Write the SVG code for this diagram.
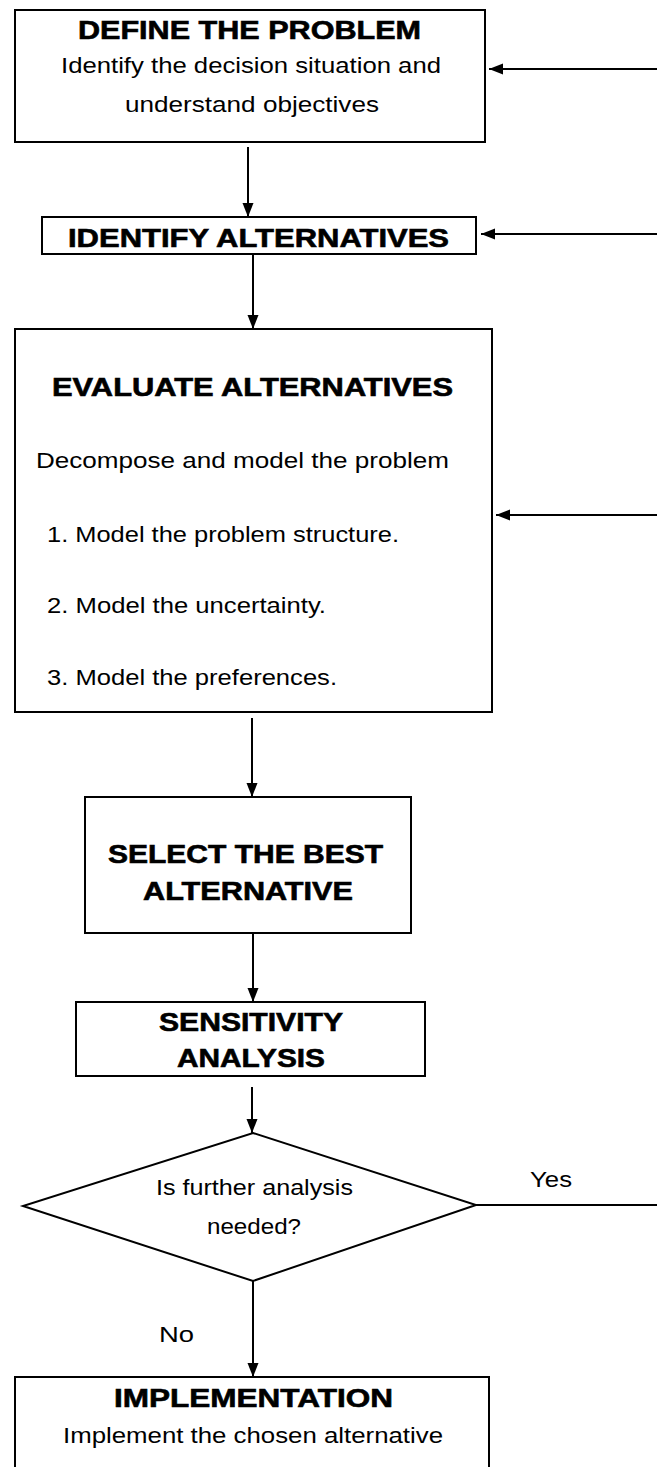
<svg xmlns="http://www.w3.org/2000/svg" width="657" height="1467" viewBox="0 0 657 1467">
  <defs>
    <marker id="arrow" viewBox="0 0 14 12" refX="14" refY="6" markerWidth="14" markerHeight="12" markerUnits="userSpaceOnUse" orient="auto">
      <path d="M0,0.5 L14,6 L0,11.5 Z" fill="#000"/>
    </marker>
    <style>
      .box { fill: #fff; stroke: #000; stroke-width: 2; }
      .link { fill: none; stroke: #000; stroke-width: 2; }
      .title { font-family: "Liberation Sans", Arial, sans-serif; font-weight: bold; font-size: 25px; fill: #000; stroke: #000; stroke-width: 0.6; }
      .body { font-family: "Liberation Sans", Arial, sans-serif; font-size: 22px; fill: #000; }
    </style>
  </defs>
  <rect width="657" height="1467" fill="#fff"/>

  <!-- connectors -->
  <g id="connectors">
    <line class="link" x1="248" y1="147" x2="248" y2="217" marker-end="url(#arrow)"/>
    <line class="link" x1="253" y1="255" x2="253" y2="329" marker-end="url(#arrow)"/>
    <line class="link" x1="252" y1="718" x2="252" y2="797" marker-end="url(#arrow)"/>
    <line class="link" x1="253" y1="933" x2="253" y2="1002" marker-end="url(#arrow)"/>
    <line class="link" x1="252" y1="1087" x2="252" y2="1133" marker-end="url(#arrow)"/>
    <line class="link" x1="253" y1="1281" x2="253" y2="1377" marker-end="url(#arrow)"/>
    <!-- "Yes" branch returns to the earlier steps -->
    <line class="link" x1="476" y1="1205" x2="657" y2="1205"/>
    <line class="link" x1="657" y1="69" x2="489" y2="69" marker-end="url(#arrow)"/>
    <line class="link" x1="657" y1="234" x2="481" y2="234" marker-end="url(#arrow)"/>
    <line class="link" x1="657" y1="515" x2="496" y2="515" marker-end="url(#arrow)"/>
    <text class="body" x="530" y="1187" textLength="42" lengthAdjust="spacingAndGlyphs">Yes</text>
    <text class="body" x="159" y="1342" textLength="35" lengthAdjust="spacingAndGlyphs">No</text>
  </g>

  <g id="define">
    <rect class="box" x="15" y="10" width="470" height="132"/>
    <text class="title" x="78" y="39" textLength="343" lengthAdjust="spacingAndGlyphs">DEFINE THE PROBLEM</text>
    <text class="body" x="61" y="73" textLength="380" lengthAdjust="spacingAndGlyphs">Identify the decision situation and</text>
    <text class="body" x="125" y="112" textLength="254" lengthAdjust="spacingAndGlyphs">understand objectives</text>
  </g>

  <g id="identify">
    <rect class="box" x="42" y="217" width="434" height="37"/>
    <text class="title" x="68" y="247" textLength="381" lengthAdjust="spacingAndGlyphs">IDENTIFY ALTERNATIVES</text>
  </g>

  <g id="evaluate">
    <rect class="box" x="15" y="329" width="477" height="383"/>
    <text class="title" x="52" y="396" textLength="401" lengthAdjust="spacingAndGlyphs">EVALUATE ALTERNATIVES</text>
    <text class="body" x="36" y="468" textLength="413" lengthAdjust="spacingAndGlyphs">Decompose and model the problem</text>
    <text class="body" x="47" y="542" textLength="352" lengthAdjust="spacingAndGlyphs">1. Model the problem structure.</text>
    <text class="body" x="47" y="613" textLength="279" lengthAdjust="spacingAndGlyphs">2. Model the uncertainty.</text>
    <text class="body" x="47" y="685" textLength="290" lengthAdjust="spacingAndGlyphs">3. Model the preferences.</text>
  </g>

  <g id="select">
    <rect class="box" x="85" y="797" width="326" height="136"/>
    <text class="title" x="108" y="863" textLength="275" lengthAdjust="spacingAndGlyphs">SELECT THE BEST</text>
    <text class="title" x="143" y="900" textLength="210" lengthAdjust="spacingAndGlyphs">ALTERNATIVE</text>
  </g>

  <g id="sensitivity">
    <rect class="box" x="76" y="1002" width="349" height="74"/>
    <text class="title" x="159" y="1031" textLength="184" lengthAdjust="spacingAndGlyphs">SENSITIVITY</text>
    <text class="title" x="177" y="1067" textLength="148" lengthAdjust="spacingAndGlyphs">ANALYSIS</text>
  </g>

  <g id="decision">
    <polygon class="box" points="253,1133 476,1205 253,1281 23,1206"/>
    <text class="body" x="156" y="1195" textLength="197" lengthAdjust="spacingAndGlyphs">Is further analysis</text>
    <text class="body" x="207" y="1234" textLength="94" lengthAdjust="spacingAndGlyphs">needed?</text>
  </g>

  <g id="implementation">
    <rect class="box" x="15" y="1377" width="474" height="100"/>
    <text class="title" x="114" y="1407" textLength="279" lengthAdjust="spacingAndGlyphs">IMPLEMENTATION</text>
    <text class="body" x="63" y="1443" textLength="380" lengthAdjust="spacingAndGlyphs">Implement the chosen alternative</text>
  </g>
</svg>
